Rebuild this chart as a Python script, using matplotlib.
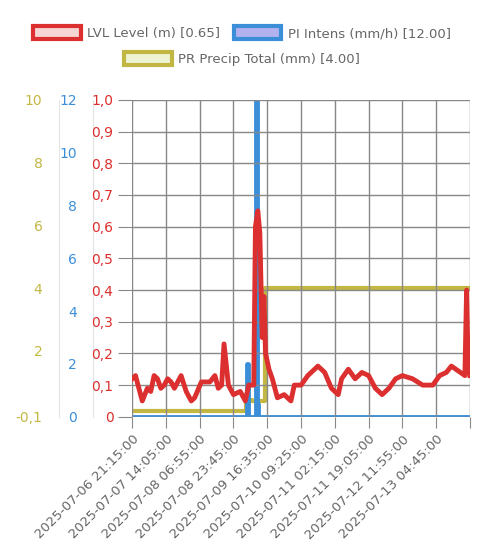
import matplotlib
matplotlib.use("Agg")
import matplotlib.pyplot as plt
from matplotlib.patches import Patch

x_labels = ["2025-07-06 21:15:00","2025-07-07 14:05:00","2025-07-08 06:55:00","2025-07-08 23:45:00",
            "2025-07-09 16:35:00","2025-07-10 09:25:00","2025-07-11 02:15:00","2025-07-11 19:05:00",
            "2025-07-12 11:55:00","2025-07-13 04:45:00"]

# x positions in units of label spacing (16h50m)
lvl_x = [0.0,0.1,0.2,0.3,0.45,0.55,0.65,0.75,0.85,0.95,1.05,1.15,1.25,1.45,1.6,1.75,1.85,2.05,2.3,2.45,
         2.55,2.65,2.72,2.85,3.0,3.2,3.35,3.45,3.6,3.65,3.72,3.78,3.85,3.9,3.95,4.05,4.15,4.3,4.5,4.7,4.8,
         5.0,5.2,5.3,5.5,5.7,5.9,6.1,6.2,6.4,6.6,6.8,7.0,7.2,7.4,7.6,7.8,8.0,8.3,8.6,8.9,9.1,9.3,9.45,
         9.85,9.9,9.95,9.98,10.0]
lvl_y = [0.12,0.13,0.09,0.05,0.09,0.08,0.13,0.12,0.09,0.10,0.12,0.11,0.09,0.13,0.08,0.05,0.06,0.11,0.11,0.13,
         0.09,0.10,0.23,0.10,0.07,0.08,0.05,0.10,0.10,0.60,0.65,0.58,0.25,0.38,0.20,0.15,0.12,0.06,0.07,0.05,0.10,
         0.10,0.13,0.14,0.16,0.14,0.09,0.07,0.12,0.15,0.12,0.14,0.13,0.09,0.07,0.09,0.12,0.13,0.12,0.10,0.10,0.13,0.14,0.16,
         0.13,0.40,0.14,0.25,0.13]

pi_x = [0.0,3.41,3.41,3.43,3.43,3.66,3.66,3.70,3.70,3.74,3.74,10.0]
pi_y = [0,0,2.0,2.0,0,0,12.0,12.0,0.5,0.5,0,0]

pr_x = [0.0,3.38,3.38,3.55,3.55,3.93,3.93,10.0]
pr_y = [0.1,0.1,0.45,0.45,0.4,0.4,4.0,4.0]

RED, BLUE, YEL = "#dc2f2f", "#3b8fd9", "#c3b744"

fig = plt.figure(figsize=(4.84, 5.55), dpi=100)
ax = fig.add_axes([0.273, 0.249, 0.698, 0.571])
ax2 = ax.twinx()
ax3 = ax.twinx()

ax3.plot(pr_x, pr_y, color=YEL, lw=3, zorder=1)
ax2.plot(pi_x, pi_y, color=BLUE, lw=3.5)
ax.plot(lvl_x, lvl_y, color=RED, lw=3.5, zorder=5)
ax.set_zorder(3); ax.patch.set_visible(False)
ax2.set_zorder(2); ax3.set_zorder(1)

ax.set_xlim(0, 10)
ax.set_ylim(0, 1.0)
ax2.set_ylim(0, 12)
ax3.set_ylim(-0.1, 10)

ax.set_yticks([i/10 for i in range(11)])
ax.set_yticklabels(["0"] + [f"{i/10:.1f}".replace(".", ",") for i in range(1, 11)])
ax.set_xticks(range(11))
ax.set_xticklabels(x_labels + [""], rotation=45, ha="right", rotation_mode="anchor")
ax.grid(True, color="#888888", lw=1)
ax.tick_params(axis="y", colors="#888888", labelcolor=RED, length=10, labelsize=10)
ax.tick_params(axis="x", colors="#888888", labelcolor="#666666", length=8, labelsize=9.5)
for s in ax.spines.values():
    s.set_visible(False)

for a, pos, ticks, lab, col in [(ax2, -0.115, [0,2,4,6,8,10,12], None, BLUE),
                                 (ax3, -0.216, [-0.1,2,4,6,8,10], ["-0,1","2","4","6","8","10"], YEL)]:
    a.yaxis.set_ticks_position("left")
    a.yaxis.set_label_position("left")
    for k, s in a.spines.items():
        s.set_visible(k == "left")
    a.spines["left"].set_position(("axes", pos))
    a.spines["left"].set_color("#e4e4e4")
    a.set_yticks(ticks)
    if lab:
        a.set_yticklabels(lab)
    a.tick_params(axis="y", length=0, pad=12, labelcolor=col, labelsize=10)

handles = [Patch(facecolor="#f6d5d5", edgecolor=RED, lw=3, label="LVL Level (m) [0.65]"),
           Patch(facecolor="#b4b2ee", edgecolor=BLUE, lw=3, label="PI Intens (mm/h) [12.00]")]
h3 = [Patch(facecolor="#eef3d4", edgecolor=YEL, lw=3, label="PR Precip Total (mm) [4.00]")]
kw = dict(frameon=False, fontsize=9.5, labelcolor="#666666", handlelength=3.6, handleheight=1.1,
          handletextpad=0.5, columnspacing=1.0)
fig.legend(handles=handles, loc="center", bbox_to_anchor=(0.5, 0.94), ncol=2, **kw)
fig.legend(handles=h3, loc="center", bbox_to_anchor=(0.5, 0.893), ncol=1, **kw)

fig.savefig("out.png", dpi=100)
